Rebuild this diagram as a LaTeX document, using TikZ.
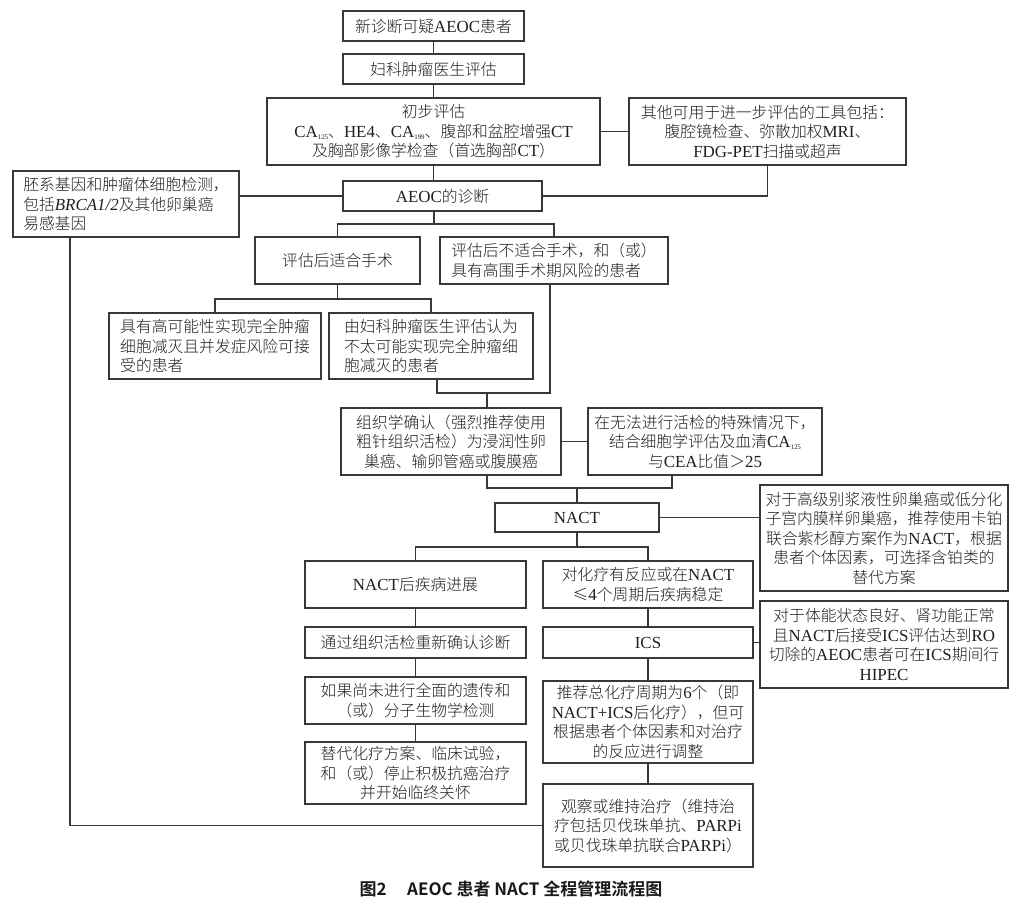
\documentclass[tikz,border=0pt]{standalone}
\usepackage{fontspec}
\setmainfont{Noto Sans CJK SC}[UprightFont=* Light, BoldFont=* Bold]
\newfontfamily\lat{Liberation Serif}[Scale=1.07]
\newfontfamily\capfont{Noto Sans CJK SC}[UprightFont=* Bold]
\newcommand\E[1]{{\lat #1}}
\newcommand\sub[1]{\raisebox{-2.4pt}{\fontsize{6.5}{6.5}\selectfont\lat #1}}
\tikzset{
  box/.style={draw=black!78, line width=1.1pt, inner sep=0pt, text=black!88,
    font=\fontsize{15.8}{19.5}\selectfont},
  lnk/.style={draw=black!78, line width=1.1pt},
}
% \bx[align]{name}{x1}{y1}{x2}{y2}{text}
\newcommand\bx[7][center]{\node[box, align=#1, minimum width={#5-#3}, minimum height={#6-#4}] (#2) at ({(#3+#5)/2},{(#4+#6)/2}) {#7};}
\begin{document}
\begin{tikzpicture}[x=1pt,y=-1pt]
\fill[white] (0,0) rectangle (1019,914);
\useasboundingbox (0,0) rectangle (1019,914);

\bx{b1}{343}{11}{524}{41}{新诊断可疑\E{AEOC}患者}
\bx{b2}{343}{54}{524}{84}{妇科肿瘤医生评估}
\bx{b3}{267}{98}{600}{165}{初步评估\\\E{CA}\sub{125}、\E{HE4}、\E{CA}\sub{199}、腹部和盆腔增强\E{CT}\\及胸部影像学检查（首选胸部\E{CT}）}
\bx{b4}{629}{98}{906}{165}{其他可用于进一步评估的工具包括：\\腹腔镜检查、弥散加权\E{MRI}、\\\E{FDG-PET}扫描或超声}
\bx{b5}{343}{181}{542}{211}{\E{AEOC}的诊断}
\bx[left]{b6}{13}{171}{239}{237}{胚系基因和肿瘤体细胞检测，\\包括\E{\itshape BRCA1/2}及其他卵巢癌\\易感基因}
\bx{b7}{255}{237}{420}{284}{评估后适合手术}
\bx[left]{b8}{440}{237}{668}{284}{评估后不适合手术，和（或）\\具有高围手术期风险的患者}
\bx[left]{b9}{109}{313}{321}{379}{具有高可能性实现完全肿瘤\\细胞减灭且并发症风险可接\\受的患者}
\bx[left]{b10}{329}{313}{533}{379}{由妇科肿瘤医生评估认为\\不太可能实现完全肿瘤细\\胞减灭的患者}
\bx{b11}{341}{408}{561}{475}{组织学确认（强烈推荐使用\\粗针组织活检）为浸润性卵\\巢癌、输卵管癌或腹膜癌}
\bx{b12}{588}{408}{822}{475}{在无法进行活检的特殊情况下，\\结合细胞学评估及血清\E{CA}\sub{125}\\与\E{CEA}比值＞\E{25}}
\bx{b13}{495}{503}{659}{532}{\E{NACT}}
\bx{b14}{760}{485}{1008}{591}{对于高级别浆液性卵巢癌或低分化\\子宫内膜样卵巢癌，推荐使用卡铂\\联合紫杉醇方案作为\E{NACT}，根据\\患者个体因素，可选择含铂类的\\替代方案}
\bx{b15}{305}{561}{526}{608}{\E{NACT}后疾病进展}
\bx{b16}{543}{561}{753}{608}{对化疗有反应或在\E{NACT}\\≤\E{4}个周期后疾病稳定}
\bx{b17}{305}{627}{526}{658}{通过组织活检重新确认诊断}
\bx{b18}{543}{627}{753}{658}{\E{ICS}}
\bx{b19}{760}{601}{1008}{688}{对于体能状态良好、肾功能正常\\且\E{NACT}后接受\E{ICS}评估达到\E{RO}\\切除的\E{AEOC}患者可在\E{ICS}期间行\\\E{HIPEC}}
\bx{b20}{305}{677}{526}{724}{如果尚未进行全面的遗传和\\（或）分子生物学检测}
\bx{b21}{543}{681}{753}{763}{推荐总化疗周期为\E{6}个（即\\\E{NACT+ICS}后化疗），但可\\根据患者个体因素和对治疗\\的反应进行调整}
\bx{b22}{305}{742}{526}{804}{替代化疗方案、临床试验，\\和（或）停止积极抗癌治疗\\并开始临终关怀}
\bx{b23}{543}{784}{753}{867}{观察或维持治疗（维持治\\疗包括贝伐珠单抗、\E{PARPi}\\或贝伐珠单抗联合\E{PARPi}）}

\node[font=\fontsize{17}{19}\selectfont\capfont, text=black!90] (cap) at (511,889) {图2\hspace{1.2em}AEOC 患者 NACT 全程管理流程图};

% connectors
\draw[lnk] (b1.south) -- (b2.north);
\draw[lnk] (b2.south) -- (b2.south |- b3.north);
\draw[lnk] (b3.east) -- (b4.west);
\draw[lnk] (b3.south -| b1.south) -- (b5.north -| b1.south);
\draw[lnk] (b4.south) |- (b5.east);
\draw[lnk] (b6.east |- b5.west) -- (b5.west);
\coordinate (j1) at (434,224);
\draw[lnk] (b5.south -| j1) -- (j1);
\draw[lnk] (b7.north) |- (j1) -| (b8.north);
\coordinate (j2) at (337.5,299);
\draw[lnk] (b7.south) -- (j2);
\draw[lnk] (b9.north) |- (j2) -| (b10.north);
\coordinate (j3) at (487,393);
\draw[lnk] ([xshift=6pt]b10.south) |- (j3);
\draw[lnk] ([xshift=-4pt]b8.south) |- (j3);
\draw[lnk] (j3) -- (j3 |- b11.north);
\draw[lnk] (b11.east) -- (b12.west);
\coordinate (j4) at (577,488);
\draw[lnk] ([xshift=36pt]b11.south) |- (j4) -| ([xshift=-33pt]b12.south);
\draw[lnk] (j4) -- (b13.north);
\draw[lnk] (b13.east) -- (b13.east -| b14.west);
\coordinate (j5) at (577,547);
\draw[lnk] (b13.south) -- (j5);
\draw[lnk] (b15.north) |- (j5) -| (b16.north);
\draw[lnk] (b15.south) -- (b17.north);
\draw[lnk] (b17.south) -- (b20.north);
\draw[lnk] (b20.south) -- (b22.north);
\draw[lnk] (b16.south) -- (b18.north);
\draw[lnk] (b18.south) -- (b21.north);
\draw[lnk] (b21.south) -- (b23.north);
\draw[lnk] (b18.east) -- (b18.east -| b19.west);
\draw[lnk] ([xshift=-56pt]b6.south) |- (b23.west);
\end{tikzpicture}
\end{document}
